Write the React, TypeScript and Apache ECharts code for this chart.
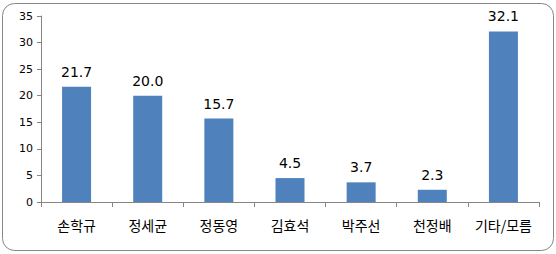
import React, { useEffect, useRef } from "react";
import * as echarts from "echarts";

const categories = ["손학규", "정세균", "정동영", "김효석", "박주선", "천정배", "기타/모름"];
const values = [21.7, 20.0, 15.7, 4.5, 3.7, 2.3, 32.1];
const yTicks = { min: 0, max: 35, interval: 5 };

export default function App() {
  const ref = useRef<HTMLDivElement>(null);
  useEffect(() => {
    if (!ref.current) return;
    const chart = echarts.init(ref.current, undefined, { renderer: "svg" });
    const font = "'Noto Sans CJK KR', 'Malgun Gothic', sans-serif";
    chart.setOption({
      animation: false,
      backgroundColor: "#ffffff",
      textStyle: { fontFamily: font },
      grid: { left: 41, right: 17, top: 16, bottom: 52, containLabel: false },
      graphic: [
        {
          type: "rect",
          shape: { x: 2.5, y: 3.5, width: 551, height: 247, r: 12 },
          style: { fill: "none", stroke: "#868686", lineWidth: 1 },
          silent: true,
          z: 100,
        },
      ],
      xAxis: {
        type: "category",
        data: categories,
        axisLine: { lineStyle: { color: "#868686", width: 1 } },
        axisTick: { show: true, length: 5, lineStyle: { color: "#868686" } },
        axisLabel: { color: "#000", fontSize: 14, margin: 16, interval: 0, hideOverlap: false, fontFamily: font },
      },
      yAxis: {
        type: "value",
        min: yTicks.min,
        max: yTicks.max,
        interval: yTicks.interval,
        axisLine: { show: true, lineStyle: { color: "#868686", width: 1 } },
        axisTick: { show: true, length: 4, lineStyle: { color: "#868686" } },
        splitLine: { show: false },
        axisLabel: { color: "#000", fontSize: 11, margin: 8, fontFamily: "Tahoma, 'DejaVu Sans', sans-serif" },
      },
      series: [
        {
          type: "bar",
          data: values,
          barWidth: 29,
          itemStyle: { color: "#4F81BD" },
          label: {
            show: true,
            position: "top",
            distance: 8,
            color: "#000",
            fontSize: 14,
            fontFamily: "Tahoma, 'DejaVu Sans', sans-serif",
            formatter: (p: any) => Number(p.value).toFixed(1),
          },
        },
      ],
    });
    return () => chart.dispose();
  }, []);
  return (
    <div
      ref={ref}
      style={{ position: "absolute", left: 0, top: 0, width: 556, height: 254 }}
    />
  );
}
